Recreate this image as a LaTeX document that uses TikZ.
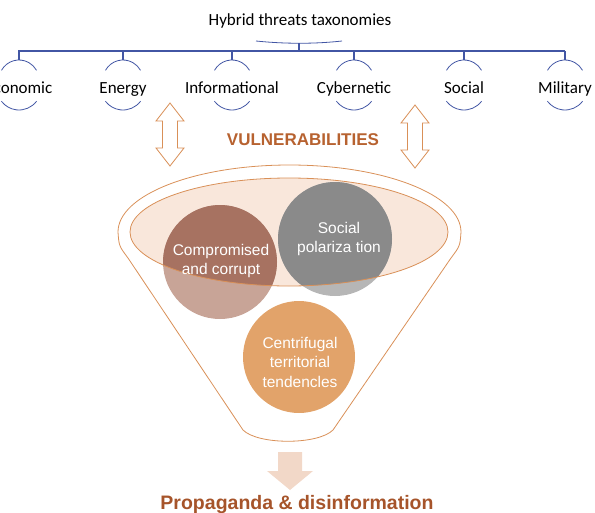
\documentclass[tikz,border=0pt]{standalone}
\usepackage{fontspec}
\setmainfont{Carlito}
\newfontfamily\arialfont{Liberation Sans}
\usepackage{tikz}
\usetikzlibrary{positioning}
\definecolor{treeblue}{RGB}{66,86,164}
\definecolor{funnelorange}{RGB}{217,144,88}
\definecolor{ellfill}{RGB}{249,231,219}
\definecolor{browndark}{RGB}{167,114,97}
\definecolor{brownlight}{RGB}{200,164,151}
\definecolor{greydark}{RGB}{138,138,138}
\definecolor{greylight}{RGB}{182,182,182}
\definecolor{orangecirc}{RGB}{226,163,106}
\definecolor{arrowfill}{RGB}{242,216,200}
\definecolor{vulntext}{RGB}{183,98,48}
\definecolor{proptext}{RGB}{166,84,42}

\begin{document}
\begin{tikzpicture}[x=1pt,y=-1pt,
  tree/.style={draw=treeblue, line width=1.2pt},
  capline/.style={draw=treeblue, line width=0.8pt},
  taxlabel/.style={font=\fontsize{17}{20}\selectfont, anchor=base, inner sep=0pt},
  funnelline/.style={draw=funnelorange, line width=0.8pt},
  circtext/.style={font=\arialfont\fontsize{15.5}{19.5}\selectfont, text=white, align=center, inner sep=0pt}]
\clip (0,0) rectangle (595,512);
\useasboundingbox (0,0) rectangle (595,512);

\node[taxlabel] (title) at (300,25) {Hybrid threats taxonomies};
\draw[capline] (256,41) .. controls (285,44) and (315,44) .. (342,41);
\draw[tree] (299,43) -- (299,51);
\coordinate (barl) at (18,51);
\coordinate (barr) at (565,51);
\draw[tree] (barl) -- (barr);
\foreach \x/\n/\t in {19/eco/Economic,123/ene/Energy,232/inf/Informational,354/cyb/Cybernetic,464/soc/Social,565/mil/Military} {
  \node[taxlabel] (\n) at (\x,93) {\t};
  \coordinate (\n top) at (\x,60);
  \draw[tree] (\x,51) -- (\n top);
  \draw[capline] (\x,80) ++(209:20) arc[start angle=209, end angle=331, radius=20];
  \draw[capline] (\x,88) ++(37:22) arc[start angle=37, end angle=143, radius=22];
}

\foreach \x/\t/\b in {170/103/166,415/105/168} {
  \draw[funnelline, fill=white] (\x,\t) -- (\x+14,\t+18) -- (\x+7.5,\t+18) -- (\x+7.5,\b-18) -- (\x+14,\b-18) -- (\x,\b)
    -- (\x-14,\b-18) -- (\x-7.5,\b-18) -- (\x-7.5,\t+18) -- (\x-14,\t+18) -- cycle;
}
\node[font=\arialfont\bfseries\fontsize{17}{20}\selectfont, text=vulntext, anchor=base, inner sep=0pt] (vuln) at (303,145) {VULNERABILITIES};

\draw[funnelline] (118,232) arc[start angle=180, end angle=360, x radius=171.5, y radius=67]
  .. controls (460,246) .. (451,258) -- (333,430) .. controls (318,445) and (258,445) .. (243,430)
  -- (128,258) .. controls (119,246) .. (118,232) -- cycle;
\fill[ellfill] (289,232) ellipse[x radius=159, y radius=54];
\fill[brownlight] (220,262) circle[radius=57];
\fill[greylight] (335,239) circle[radius=57];
\begin{scope}
  \clip (289,232) ellipse[x radius=159, y radius=54];
  \fill[browndark] (220,262) circle[radius=57];
  \fill[greydark] (335,239) circle[radius=57];
\end{scope}
\draw[funnelline] (289,232) ellipse[x radius=159, y radius=54];
\fill[orangecirc] (299,357) circle[radius=56];

\node[circtext] (corrupt) at (221,261) {Compromised\\and corrupt};
\node[circtext] (polar) at (339,239) {Social\\polariza tion};
\node[circtext] (centri) at (300,362) {Centrifugal\\territorial\\tendencles};

\fill[arrowfill] (278,452) -- (302,452) -- (302,471) -- (313,471) -- (290,490) -- (267,471) -- (278,471) -- cycle;
\node[font=\arialfont\bfseries\fontsize{19.5}{22}\selectfont, text=proptext, anchor=base, inner sep=0pt] (prop) at (297,509) {Propaganda \& disinformation};
\end{tikzpicture}
\end{document}
